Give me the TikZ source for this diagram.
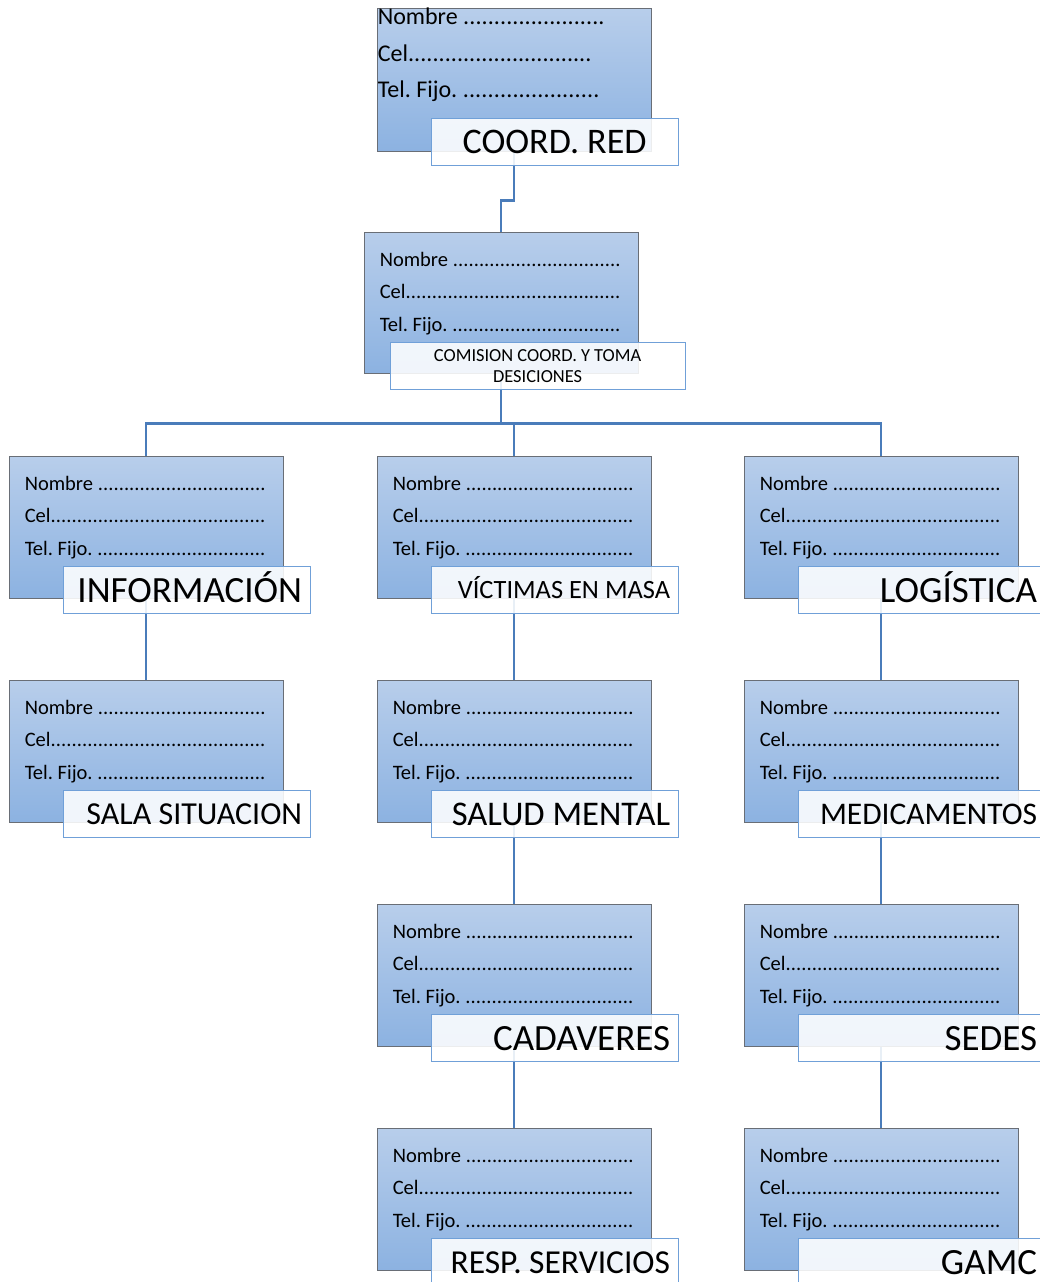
\documentclass[tikz,border=0pt]{standalone}
\usepackage{fontspec}
\setmainfont{Carlito}
\usepackage{tikz}
\usetikzlibrary{positioning, calc, backgrounds}
\usepackage{xcolor}
\definecolor{cajaclara}{RGB}{184,206,235}
\definecolor{cajaoscura}{RGB}{140,178,225}
\definecolor{bordecaja}{RGB}{105,110,118}
\definecolor{bordeetiq}{RGB}{112,160,216}
\definecolor{conector}{RGB}{74,124,186}
\newcommand{\linea}[2]{\hbox to #1{#2\xleaders\hbox{.}\hfill}}
\newcommand{\centrado}[1]{\raisebox{-0.32em}[0pt][0pt]{#1}}
\frenchspacing
\tikzset{
  ficha/.style={rectangle, draw=bordecaja, line width=0.8pt, top color=cajaclara, bottom color=cajaoscura,
    minimum width=274pt, minimum height=142pt, inner sep=0pt},
  dato/.style={anchor=base west, inner sep=0pt, font=\fontsize{20.5}{24}\selectfont},
  etiqueta/.style={rectangle, draw=bordeetiq, line width=1pt, fill=white, fill opacity=0.88, text opacity=1,
    anchor=north west, minimum width=247pt, minimum height=47pt, inner xsep=8pt, inner ysep=0pt,
    text width=231pt, align=flush right},
  enlace/.style={draw=conector, line width=2.6pt}
}

\begin{document}
\begin{tikzpicture}[x=1pt, y=-1pt]
  \useasboundingbox (0,0) rectangle (1039,1282);

  \node[ficha, minimum height=143pt] (coord) at (514,79.5) {};
  \node[dato, font=\fontsize{24}{28}\selectfont] (coord-n) at ($(coord.north west)+(1,16.7)$) {\linea{227pt}{Nombre }};
  \node[dato, font=\fontsize{24}{28}\selectfont] (coord-c) at ($(coord.north west)+(1,53.7)$) {\linea{214pt}{Cel}};
  \node[dato, font=\fontsize{24}{28}\selectfont] (coord-t) at ($(coord.north west)+(1,89.7)$) {\linea{222pt}{Tel. Fijo. }};
  \node[etiqueta, align=flush center, font=\fontsize{36}{40}\selectfont] (coord-l) at ($(coord.south west)+(54,-33)$) {\centrado{COORD. RED}};

  \node[ficha, minimum height=141pt] (comision) at (501,302.5) {};
  \node[dato] (comision-n) at ($(comision.north west)+(16,34.5)$) {\linea{241pt}{Nombre }};
  \node[dato] (comision-c) at ($(comision.north west)+(16,66.5)$) {\linea{241pt}{Cel}};
  \node[dato] (comision-t) at ($(comision.north west)+(16,99.5)$) {\linea{241pt}{Tel. Fijo. }};
  \node[etiqueta, minimum width=295pt, text width=279pt, align=flush center,
    font=\fontsize{18.4}{21}\selectfont] (comision-l) at ($(comision.south west)+(26,-31)$) {COMISION COORD. Y TOMA\\DESICIONES};

  \foreach \nm/\cx/\cy/\lab/\tam in {info/146/527/INFORMACIÓN/37, victimas/514/527/VÍCTIMAS EN MASA/26.4,
      logi/881/527/LOGÍSTICA/37, sala/146/751/SALA SITUACION/32, salud/514/751/SALUD MENTAL/34.6,
      medic/881/751/MEDICAMENTOS/31.5, cadav/514/975/CADAVERES/37, sedes/881/975/SEDES/37,
      resp/514/1199/RESP. SERVICIOS/33.5, gamc/881/1199/GAMC/37} {
    \node[ficha] (\nm) at (\cx,\cy) {};
    \node[dato] (\nm-n) at ($(\nm.north west)+(16,34.5)$) {\linea{241pt}{Nombre }};
    \node[dato] (\nm-c) at ($(\nm.north west)+(16,66.5)$) {\linea{241pt}{Cel}};
    \node[dato] (\nm-t) at ($(\nm.north west)+(16,99.5)$) {\linea{241pt}{Tel. Fijo. }};
    \node[etiqueta, font=\fontsize{\tam}{\tam}\selectfont] (\nm-l) at ($(\nm.south west)+(54,-32)$) {\centrado{\lab}};
  }

  \begin{scope}[on background layer]
    \fill[white] (0,0) rectangle (1039,1282);
    \draw[enlace] (coord.south) -- ++(0,49) -| (comision.north);
    \coordinate (bus) at ($(comision.south)+(0,50)$);
    \draw[enlace] (comision.south) -- (bus);
    \draw[enlace] (info.north) |- (bus);
    \draw[enlace] (logi.north) |- (bus);
    \draw[enlace] (victimas.north) -- (victimas.north |- bus);
    \draw[enlace] (info.south) -- (sala.north);
    \draw[enlace] (victimas.south) -- (salud.north);
    \draw[enlace] (salud.south) -- (cadav.north);
    \draw[enlace] (cadav.south) -- (resp.north);
    \draw[enlace] (logi.south) -- (medic.north);
    \draw[enlace] (medic.south) -- (sedes.north);
    \draw[enlace] (sedes.south) -- (gamc.north);
  \end{scope}
\end{tikzpicture}
\end{document}
